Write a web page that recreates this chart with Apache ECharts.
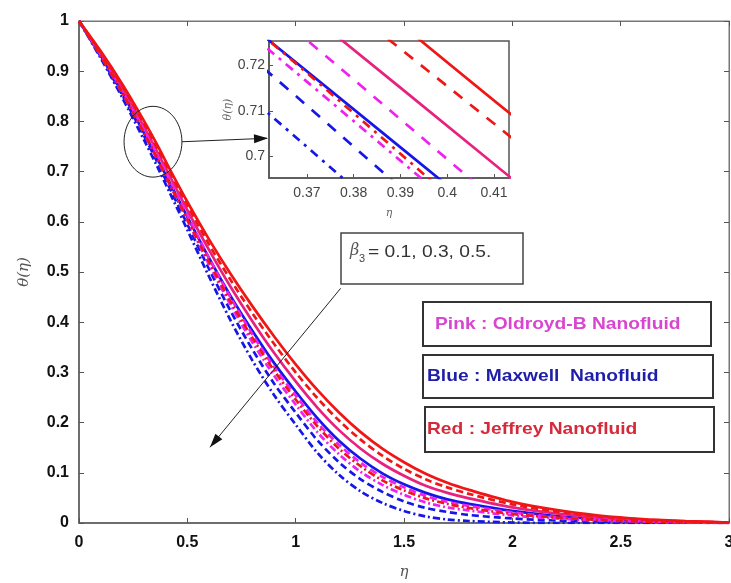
<!DOCTYPE html>
<html>
<head>
<meta charset="utf-8">
<title>theta(eta) profiles</title>
<script src="https://cdn.jsdelivr.net/npm/echarts@6.0.0/dist/echarts.min.js"></script>
<style>
  html, body { margin: 0; padding: 0; background: #fff; }
  #chart { width: 731px; height: 583px; }
</style>
</head>
<body>
<div id="chart"></div>
<script>
// eta grid (0.36 / 0.42 bracket the zoomed window of the inset)
const eta = [0, 0.1, 0.2, 0.3, 0.36, 0.42, 0.5, 0.6, 0.7, 0.8, 0.9, 1.0, 1.1, 1.2, 1.3, 1.4, 1.5, 1.6, 1.7, 1.8, 2.0, 2.2, 2.4, 2.6, 2.8, 3.0];

// Maxwell (blue) : beta3 = 0.1 / 0.3 / 0.5
const maxwellB1 = [1, 0.931, 0.857, 0.777, 0.727, 0.677, 0.610, 0.528, 0.452, 0.383, 0.319, 0.262, 0.209, 0.164, 0.128, 0.099, 0.077, 0.060, 0.047, 0.038, 0.024, 0.014, 0.008, 0.004, 0.002, 0.001];
const maxwellB3 = [1, 0.929, 0.852, 0.771, 0.720, 0.666, 0.595, 0.506, 0.422, 0.346, 0.278, 0.220, 0.165, 0.121, 0.087, 0.062, 0.043, 0.030, 0.022, 0.016, 0.009, 0.005, 0.003, 0.002, 0.001, 0];
const maxwellB5 = [1, 0.926, 0.847, 0.763, 0.711, 0.657, 0.584, 0.491, 0.403, 0.324, 0.255, 0.196, 0.140, 0.096, 0.063, 0.040, 0.024, 0.013, 0.007, 0.004, 0.001, 0, 0, 0, 0, 0];

// Oldroyd-B (pink)
const oldroydB1 = [1, 0.936, 0.866, 0.789, 0.740, 0.690, 0.623, 0.544, 0.470, 0.402, 0.339, 0.282, 0.230, 0.185, 0.148, 0.118, 0.094, 0.074, 0.060, 0.049, 0.031, 0.019, 0.011, 0.006, 0.003, 0.001];
const oldroydB3 = [1, 0.933, 0.861, 0.783, 0.734, 0.682, 0.613, 0.528, 0.449, 0.376, 0.311, 0.254, 0.200, 0.156, 0.120, 0.092, 0.071, 0.054, 0.042, 0.034, 0.021, 0.012, 0.007, 0.004, 0.002, 0];
const oldroydB5 = [1, 0.931, 0.856, 0.776, 0.725, 0.673, 0.603, 0.515, 0.434, 0.360, 0.294, 0.236, 0.181, 0.137, 0.102, 0.076, 0.056, 0.041, 0.031, 0.025, 0.015, 0.009, 0.005, 0.003, 0.001, 0];

// Jeffrey (red)
const jeffreyB1 = [1, 0.940, 0.874, 0.801, 0.754, 0.704, 0.640, 0.565, 0.496, 0.432, 0.372, 0.316, 0.265, 0.220, 0.181, 0.148, 0.121, 0.098, 0.080, 0.066, 0.042, 0.026, 0.015, 0.008, 0.004, 0.001];
const jeffreyB3 = [1, 0.938, 0.870, 0.796, 0.748, 0.699, 0.633, 0.555, 0.484, 0.418, 0.357, 0.300, 0.249, 0.204, 0.166, 0.134, 0.108, 0.087, 0.071, 0.058, 0.037, 0.023, 0.013, 0.007, 0.003, 0.001];
const jeffreyB5 = [1, 0.931, 0.857, 0.777, 0.727, 0.674, 0.605, 0.520, 0.441, 0.369, 0.304, 0.246, 0.193, 0.148, 0.113, 0.085, 0.065, 0.049, 0.038, 0.030, 0.018, 0.011, 0.006, 0.003, 0.002, 0];

// inset window and ticks
const insetX = [0.3619, 0.4132];
const insetY = [0.6953, 0.7253];
const insetXTicks = [0.37, 0.38, 0.39, 0.4, 0.41];
const insetYTicks = [0.7, 0.71, 0.72];

// annotation anchors in data units
const zoomEllipse = [0.208, 0.830, 0.475, 0.689];   // x1, y1, x2, y2
const zoomArrowEnd = [insetX[0], 0.704];            // on inset axes
const betaArrow = [1.2076, 0.4675, 0.6045, 0.1508]; // from box corner to tip

const betaText = '= 0.1, 0.3, 0.5.';
const legendTexts = ['Pink : Oldroyd-B Nanofluid', 'Blue : Maxwell  Nanofluid', 'Red : Jeffrey Nanofluid'];

const BLUE = '#1616e8', PINK = '#f020f0', PINK_SOLID = '#e8207e', RED = '#f01616';
const axisColor = '#555';

const chart = echarts.init(document.getElementById('chart'), null, { renderer: 'canvas' });

const pairs = arr => eta.map((x, i) => [x, arr[i]]);

const curves = [
  { name: 'Maxwell β3=0.1', values: maxwellB1, color: BLUE, dash: 'solid' },
  { name: 'Maxwell β3=0.3', values: maxwellB3, color: BLUE, dash: 'dashed' },
  { name: 'Maxwell β3=0.5', values: maxwellB5, color: BLUE, dash: 'dashdot' },
  { name: 'Oldroyd-B β3=0.1', values: oldroydB1, color: PINK_SOLID, dash: 'solid' },
  { name: 'Oldroyd-B β3=0.3', values: oldroydB3, color: PINK, dash: 'dashed' },
  { name: 'Oldroyd-B β3=0.5', values: oldroydB5, color: PINK, dash: 'dashdot' },
  { name: 'Jeffrey β3=0.1', values: jeffreyB1, color: RED, dash: 'solid' },
  { name: 'Jeffrey β3=0.3', values: jeffreyB3, color: RED, dash: 'dashed' },
  { name: 'Jeffrey β3=0.5', values: jeffreyB5, color: RED, dash: 'dashdot' }
];

const dashMain = { solid: 'solid', dashed: [7, 4], dashdot: [7, 3, 2, 3] };
const dashInset = { solid: 'solid', dashed: [11, 10], dashdot: [9, 6, 3, 6] };

const series = [];
curves.forEach(c => {
  series.push({
    type: 'line', name: c.name, xAxisIndex: 0, yAxisIndex: 0,
    data: pairs(c.values), smooth: 0.3, showSymbol: false, silent: true,
    lineStyle: { color: c.color, width: 2.7, type: dashMain[c.dash] }
  });
  series.push({
    type: 'line', name: c.name, xAxisIndex: 2, yAxisIndex: 2,
    data: pairs(c.values), smooth: 0.3, showSymbol: false, silent: true, clip: true,
    lineStyle: { color: c.color, width: 2.7, type: dashInset[c.dash] }
  });
});

const tickFont = { fontFamily: '"Liberation Sans", Arial, sans-serif', fontWeight: 'bold', fontSize: 16, color: '#111' };
const insetFont = { fontFamily: '"Liberation Sans", Arial, sans-serif', fontSize: 14, color: '#444' };
const nameFont = { fontFamily: '"DejaVu Serif", serif', fontStyle: 'italic', fontSize: 15, color: '#555' };

const option = {
  animation: false,
  backgroundColor: '#fff',
  grid: [
    { left: 79, top: 21, width: 650, height: 502, show: true, borderColor: '#777', borderWidth: 1, outerBoundsMode: 'none' },
    { left: 269, top: 41, width: 240, height: 137, show: true, borderColor: '#555', borderWidth: 1.5, backgroundColor: '#fff', outerBoundsMode: 'none' }
  ],
  xAxis: [
    {
      gridIndex: 0, type: 'value', min: 0, max: 3, interval: 0.5,
      axisLine: { show: true, onZero: false, lineStyle: { color: axisColor, width: 1.5 } },
      axisTick: { inside: true, length: 5, lineStyle: { color: axisColor } },
      axisLabel: Object.assign({ margin: 12 }, tickFont),
      splitLine: { show: false },
      name: 'η', nameLocation: 'middle', nameGap: 42, nameTextStyle: nameFont
    },
    {
      gridIndex: 0, type: 'value', position: 'top', min: 0, max: 3, interval: 0.5,
      axisLine: { show: true, onZero: false, lineStyle: { color: '#777', width: 1 } },
      axisTick: { inside: true, length: 5, lineStyle: { color: axisColor } },
      axisLabel: { show: false }, splitLine: { show: false }
    },
    {
      gridIndex: 1, type: 'value', min: insetX[0], max: insetX[1],
      axisLine: { show: true, onZero: false, lineStyle: { color: '#555', width: 1.5 } },
      axisTick: { inside: true, length: 4, customValues: insetXTicks, lineStyle: { color: '#555' } },
      axisLabel: Object.assign({ margin: 8, customValues: insetXTicks }, insetFont),
      splitLine: { show: false },
      name: 'η', nameLocation: 'middle', nameGap: 30,
      nameTextStyle: { fontFamily: '"DejaVu Serif", serif', fontStyle: 'italic', fontSize: 11, color: '#666' }
    }
  ],
  yAxis: [
    {
      gridIndex: 0, type: 'value', min: 0, max: 1, interval: 0.1,
      axisLine: { show: true, onZero: false, lineStyle: { color: axisColor, width: 1.5 } },
      axisTick: { inside: true, length: 5, lineStyle: { color: axisColor } },
      axisLabel: Object.assign({ margin: 10 }, tickFont),
      splitLine: { show: false },
      name: 'θ(η)', nameLocation: 'middle', nameGap: 47, nameRotate: 90, nameTextStyle: nameFont
    },
    {
      gridIndex: 0, type: 'value', position: 'right', min: 0, max: 1, interval: 0.1,
      axisLine: { show: true, onZero: false, lineStyle: { color: '#777', width: 1 } },
      axisTick: { inside: true, length: 5, lineStyle: { color: axisColor } },
      axisLabel: { show: false }, splitLine: { show: false }
    },
    {
      gridIndex: 1, type: 'value', min: insetY[0], max: insetY[1],
      axisLine: { show: true, onZero: false, lineStyle: { color: '#555', width: 1.5 } },
      axisTick: { inside: true, length: 4, customValues: insetYTicks, lineStyle: { color: '#555' } },
      axisLabel: Object.assign({ margin: 4, customValues: insetYTicks }, insetFont),
      splitLine: { show: false },
      name: 'θ(η)', nameLocation: 'middle', nameGap: 24, nameRotate: 90,
      nameTextStyle: { fontFamily: '"DejaVu Serif", serif', fontStyle: 'italic', fontSize: 11, color: '#666' }
    }
  ],
  series: series
};

chart.setOption(option);

// annotations: zoom ellipse, arrows, boxes
function arrowHead(x1, y1, x2, y2, len, half) {
  const a = Math.atan2(y2 - y1, x2 - x1);
  const bx = x2 - len * Math.cos(a), by = y2 - len * Math.sin(a);
  return [[x2, y2], [bx + half * Math.sin(a), by - half * Math.cos(a)], [bx - half * Math.sin(a), by + half * Math.cos(a)]];
}

function buildGraphics() {
  const px = (pt, g) => chart.convertToPixel({ gridIndex: g }, pt);
  const e1 = px([zoomEllipse[0], zoomEllipse[1]], 0);
  const e2 = px([zoomEllipse[2], zoomEllipse[3]], 0);
  const ecx = (e1[0] + e2[0]) / 2, ecy = (e1[1] + e2[1]) / 2;
  const zEnd = px(zoomArrowEnd, 1);
  const b1 = px([betaArrow[0], betaArrow[1]], 0);
  const b2 = px([betaArrow[2], betaArrow[3]], 0);

  const g = [];
  g.push({ type: 'ellipse', z: 100, shape: { cx: ecx, cy: ecy, rx: (e2[0] - e1[0]) / 2, ry: (e2[1] - e1[1]) / 2 },
    style: { fill: 'none', stroke: '#222', lineWidth: 1 } });
  g.push({ type: 'line', z: 100, shape: { x1: e2[0], y1: ecy, x2: zEnd[0] - 2, y2: zEnd[1] }, style: { stroke: '#222', lineWidth: 1.2 } });
  g.push({ type: 'polygon', z: 100, shape: { points: arrowHead(e2[0], ecy, zEnd[0] - 1, zEnd[1], 14, 4.5) }, style: { fill: '#111' } });

  g.push({ type: 'line', z: 100, shape: { x1: b1[0], y1: b1[1], x2: b2[0], y2: b2[1] }, style: { stroke: '#222', lineWidth: 1 } });
  g.push({ type: 'polygon', z: 100, shape: { points: arrowHead(b1[0], b1[1], b2[0], b2[1], 14, 4.5) }, style: { fill: '#111' } });

  // beta3 box
  g.push({ type: 'rect', z: 100, shape: { x: 341, y: 233, width: 182, height: 51 }, style: { fill: '#fff', stroke: '#444', lineWidth: 1.5 } });
  g.push({ type: 'text', z: 101, x: 350, y: 251, style: { text: 'β', font: 'italic 16px "DejaVu Serif", serif', fill: '#555', verticalAlign: 'middle' } });
  g.push({ type: 'text', z: 101, x: 359, y: 259, style: { text: '3', font: '11px "Liberation Sans", Arial', fill: '#444', verticalAlign: 'middle' } });
  g.push({ type: 'text', z: 101, x: 368, y: 253, scaleX: 1.2, style: { text: betaText, font: '16px "Liberation Sans", Arial', fill: '#333', verticalAlign: 'middle' } });

  // fluid legend boxes
  const boxes = [
    { x: 423, y: 302, w: 288, h: 44, tx: 435, color: '#d846d0' },
    { x: 423, y: 355, w: 290, h: 43, tx: 427, color: '#1e1ea8' },
    { x: 425, y: 407, w: 289, h: 45, tx: 427, color: '#d42a3a' }
  ];
  boxes.forEach((b, i) => {
    g.push({ type: 'rect', z: 100, shape: { x: b.x, y: b.y, width: b.w, height: b.h }, style: { fill: '#fff', stroke: '#333', lineWidth: 2 } });
    g.push({ type: 'text', z: 101, x: b.tx, y: b.y + b.h / 2, scaleX: 1.13,
      style: { text: legendTexts[i], font: 'bold 17px "Liberation Sans", Arial', fill: b.color, verticalAlign: 'middle' } });
  });
  return g;
}

chart.setOption({ graphic: buildGraphics() });
</script>
</body>
</html>
